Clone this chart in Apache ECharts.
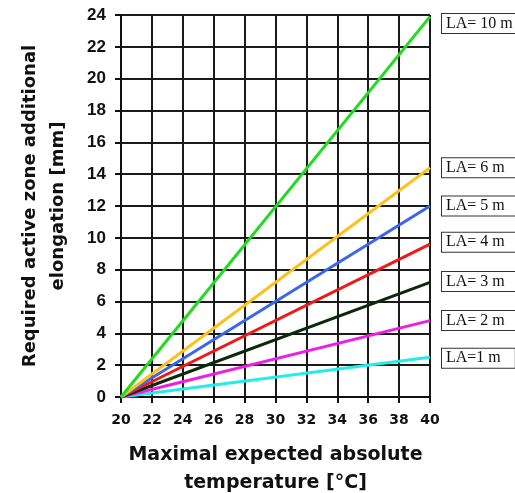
<!DOCTYPE html>
<html style="height: 100%">

<head>
    <meta charset="utf-8">
</head>

<body style="height: 100%; margin: 0; background: #fff">
    <div id="container" style="width: 515px; height: 493px"></div>
    <script type="text/javascript" src="https://cdn.jsdelivr.net/npm/echarts@6/dist/echarts.min.js"></script>
    <script type="text/javascript">
        // temperature [°C] at start and end of each line
        var temps = [20, 40];
        // elongation [mm] read at 20 and 40 °C
        var la10 = [0, 23.9];
        var la6 = [0, 14.4];
        var la5 = [0, 12.0];
        var la4 = [0, 9.6];
        var la3 = [0, 7.2];
        var la2 = [0, 4.8];
        var la1 = [0, 2.5];

        var labels = ['LA= 10 m', 'LA= 6 m', 'LA= 5 m', 'LA= 4 m', 'LA= 3 m', 'LA= 2 m', 'LA=1 m'];
        var values = [la10, la6, la5, la4, la3, la2, la1];
        var colors = ['#1fdc1f', '#fcc21c', '#3a66ee', '#ee1a1a', '#0a2a0a', '#ee1ee8', '#22ecec'];
        var offsets = [7, 0, 0, -2, -1, 0, 1];

        var dom = document.getElementById("container");
        var myChart = echarts.init(dom);

        var series = values.map(function (vals, i) {
            return {
                name: labels[i],
                type: 'line',
                data: temps.map(function (t, j) { return [t, vals[j]]; }),
                symbol: 'none',
                silent: true,
                z: 10 - i,
                lineStyle: { color: colors[i], width: 3 },
                endLabel: {
                    show: true,
                    formatter: '{a}',
                    distance: 12,
                    offset: [0, offsets[i]],
                    fontFamily: 'Liberation Serif',
                    fontSize: 16,
                    color: '#111',
                    backgroundColor: '#fff',
                    borderColor: '#333',
                    borderWidth: 1,
                    padding: [2, 14, 1, 4]
                }
            };
        });

        var titleFont = {
            fontFamily: 'DejaVu Sans',
            fontWeight: 'bold',
            fontSize: 18,
            color: '#111',
            lineHeight: 28
        };

        myChart.setOption({
            backgroundColor: '#fff',
            animation: false,
            grid: { left: 121, right: 85, top: 15, bottom: 96, outerBoundsMode: 'none' },
            xAxis: {
                type: 'value',
                min: 20,
                max: 40,
                interval: 2,
                name: 'Maximal expected absolute\ntemperature [°C]',
                nameLocation: 'middle',
                nameGap: 44,
                nameTextStyle: Object.assign({}, titleFont, { fontSize: 19 }),
                axisLine: { lineStyle: { color: '#111', width: 2 } },
                axisTick: { length: 6, lineStyle: { color: '#111', width: 2 } },
                axisLabel: {
                    margin: 16,
                    fontFamily: 'DejaVu Sans',
                    fontWeight: 'bold',
                    fontSize: 14,
                    color: '#111'
                },
                splitLine: { lineStyle: { color: '#1a1a1a', width: 2 } }
            },
            yAxis: {
                type: 'value',
                min: 0,
                max: 24,
                interval: 2,
                name: 'Required active zone additional\nelongation [mm]',
                nameLocation: 'middle',
                nameGap: 49,
                nameTextStyle: titleFont,
                axisLine: { show: true, lineStyle: { color: '#111', width: 2 } },
                axisTick: { show: true, length: 6, lineStyle: { color: '#111', width: 2 } },
                axisLabel: {
                    margin: 15,
                    fontFamily: 'Liberation Sans',
                    fontWeight: 'bold',
                    fontSize: 17,
                    color: '#111'
                },
                splitLine: { lineStyle: { color: '#1a1a1a', width: 2 } }
            },
            series: series
        });
    </script>
</body>

</html>
